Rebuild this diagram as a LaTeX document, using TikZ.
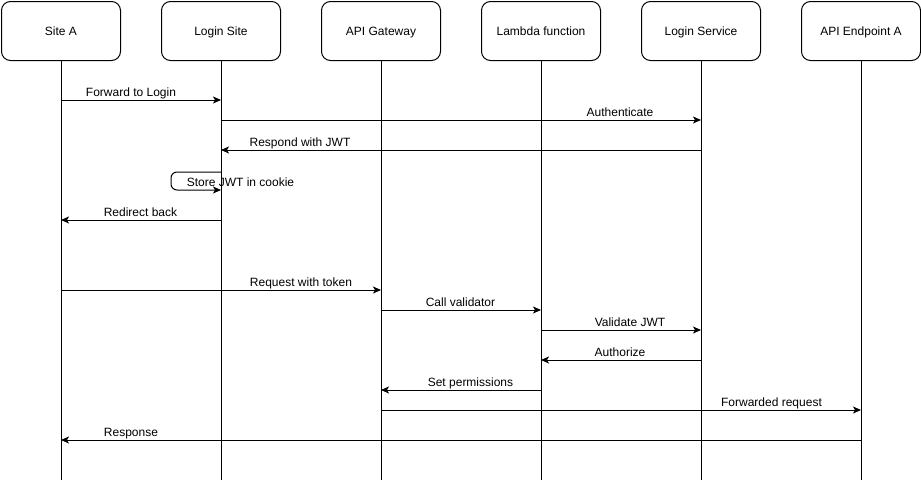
\documentclass[tikz,border=0pt]{standalone}
\usepackage{fontspec}
\setmainfont{Liberation Sans}
\usetikzlibrary{arrows.meta}
\begin{document}
\begin{tikzpicture}[x=1pt,y=-1pt,
  actor/.style={draw=black,line width=1pt,rounded corners=9pt,minimum width=119pt,minimum height=59pt,font=\fontsize{12}{14}\selectfont,inner sep=0pt},
  life/.style={draw=black,line width=1pt},
  msg/.style={draw=black,line width=1pt,-{Stealth[length=8pt,width=7pt,inset=2pt]}},
  lbl/.style={font=\fontsize{12}{14}\selectfont,inner sep=0pt,text height=8.5pt,text depth=2.5pt}]
\useasboundingbox (0,0) rectangle (921,482);
\foreach \n/\x/\t in {A/61/Site A,L/221/Login Site,G/381/API Gateway,F/541/Lambda function,S/701/Login Service,E/861/API Endpoint A}{
  \node[actor] (\n) at (\x,31) {};
  \node[lbl] (\n t) at (\x,32) {\t};
  \coordinate (\n end) at (\n.south |- 0,480);
  \draw[life] (\n.south) -- (\n end);
}
\draw[msg] (A |- 0,100) -- (L |- 0,100);
\node[lbl] (t1) at (131,93) {Forward to Login};
\draw[msg] (L |- 0,120) -- (S |- 0,120);
\node[lbl] (t2) at (620,113) {Authenticate};
\draw[msg] (S |- 0,150) -- (L |- 0,150);
\node[lbl] (t3) at (300,143) {Respond with JWT};
\draw[msg,rounded corners=6pt] (L |- 0,172) -- (171,172) -- (171,190) -- (L |- 0,190);
\node[lbl] (t4) at (240.5,183) {Store JWT in cookie};
\draw[msg] (L |- 0,220) -- (A |- 0,220);
\node[lbl] (t5) at (140.5,213) {Redirect back};
\draw[msg] (A |- 0,290) -- (G |- 0,290);
\node[lbl] (t6) at (301,283) {Request with token};
\draw[msg] (G |- 0,310) -- (F |- 0,310);
\node[lbl] (t7) at (460.5,303) {Call validator};
\draw[msg] (F |- 0,330) -- (S |- 0,330);
\node[lbl] (t8) at (630,323) {Validate JWT};
\draw[msg] (S |- 0,360) -- (F |- 0,360);
\node[lbl] (t9) at (620,353) {Authorize};
\draw[msg] (F |- 0,390) -- (G |- 0,390);
\node[lbl] (t10) at (470.5,383) {Set permissions};
\draw[msg] (G |- 0,410) -- (E |- 0,410);
\node[lbl] (t11) at (771.5,403) {Forwarded request};
\draw[msg] (E |- 0,440) -- (A |- 0,440);
\node[lbl] (t12) at (131,433) {Response};
\end{tikzpicture}
\end{document}
